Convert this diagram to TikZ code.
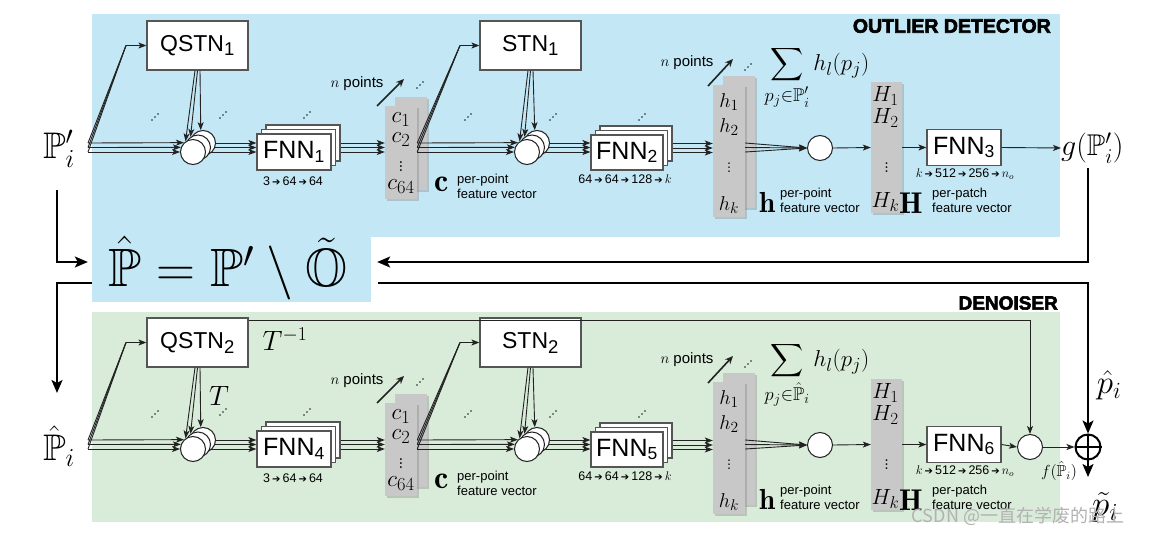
\RequirePackage{fix-cm}
\documentclass[tikz,border=0pt]{standalone}
\usepackage{amsmath,amssymb}
\usepackage{fontspec}
\setsansfont{Liberation Sans}
\newfontfamily\heavyfont{Liberation Sans}[BoldFeatures={FakeBold=3}]
\newfontfamily\arrowfont{DejaVu Sans}
\newfontfamily\cjkfont{Noto Sans CJK SC}
\usetikzlibrary{arrows.meta,shadows,calc}
\pgfdeclarelayer{back}
\pgfdeclarelayer{bg}
\pgfsetlayers{back,bg,main}
\DeclareMathSizes{23}{23}{18.5}{14}
\DeclareMathSizes{20}{20}{15.5}{11}
\DeclareMathSizes{22}{22}{17}{12}
\definecolor{bluebg}{RGB}{195,231,245}
\definecolor{greenbg}{RGB}{217,235,217}
\definecolor{boxc}{RGB}{85,85,85}
\definecolor{linec}{RGB}{34,34,34}
\definecolor{grayc}{RGB}{200,200,200}
\newcommand\fsz[2]{\fontsize{#1}{#2}\selectfont}
\newcommand\smallarr{\,{\arrowfont\fsz{10}{10}➔}\,}
\tikzset{
 conn/.style={draw=linec, line width=0.9pt, -{Stealth[length=8pt,width=6pt,inset=2pt]}},
 plain/.style={draw=linec, line width=0.9pt},
 fb/.style={draw=black, line width=2pt},
 fbarrow/.style={draw=black, line width=2pt, -{Stealth[length=13pt,width=11pt,inset=3pt]}},
 npar/.style={draw=linec, line width=1.6pt, -{Stealth[length=8pt,width=7pt]}},
 wbox/.style={draw=boxc, fill=white, line width=1.2pt, inner sep=0pt},
 netbox/.style={wbox, minimum width=101pt, minimum height=49pt, font=\sffamily\fsz{23}{23}},
 fnnbox/.style={wbox, minimum width=74pt, minimum height=36pt, font=\sffamily\fsz{25}{25}},
 gbox/.style={fill=grayc, inner sep=0pt, drop shadow={opacity=0.35, shadow xshift=1.5pt, shadow yshift=-1.5pt}},
 circ/.style={circle, draw=linec, fill=white, line width=1pt, minimum size=25pt, inner sep=0pt},
 cell/.style={font=\fsz{23}{23}, inner sep=0pt},
 hcell/.style={font=\fsz{20}{20}, inner sep=0pt},
 Hcell/.style={font=\fsz{22}{22}, inner sep=0pt},
 small/.style={font=\sffamily\fsz{12.5}{12.5}, inner sep=0pt},
 desc/.style={font=\sffamily\fsz{13}{15}, align=left, anchor=west, inner sep=0pt},
 dotc/.style={fill=linec},
}
\newcommand\diagdots[1]{\foreach \kk in {-1,0,1} {\fill[dotc] ($(#1)+(3*\kk,-3*\kk)$) circle (0.8);}}
\newcommand\pipeline[7]{%
 \node[font=\fsz{37}{37}, inner sep=0pt] (inp) at (59,149) {$#1$};
 \coordinate (s0) at (88,152);
 \coordinate (s1) at (88,147.5);
 \coordinate (s2) at (88,143);
 \coordinate (qk) at (126,45.5);
 \coordinate (sk) at (460,45.5);
 \node[netbox] (q) at (197.5,45.5) {QSTN\textsubscript{#2}};
 \node[netbox] (s) at (530.5,45.5) {STN\textsubscript{#3}};
 \node[circ] (c2) at (203,143) {};
 \node[circ] (c1) at (198,147.5) {};
 \node[circ] (c0) at (193,152) {};
 \node[circ] (d2) at (537,143) {};
 \node[circ] (d1) at (532,147.5) {};
 \node[circ] (d0) at (527,152) {};
 \node[fnnbox] (f2) at (303,143) {};
 \node[fnnbox] (f1) at (298.5,147.5) {};
 \node[fnnbox] (f0) at (294,152) {FNN\textsubscript{#4}};
 \node[fnnbox, minimum width=72pt, minimum height=35pt] (e2) at (636,143.5) {};
 \node[fnnbox, minimum width=72pt, minimum height=35pt] (e1) at (631.5,148) {};
 \node[fnnbox, minimum width=72pt, minimum height=35pt] (e0) at (627,152.5) {FNN\textsubscript{#5}};
 \node[gbox, minimum width=32pt, minimum height=93pt] (cb) at (411,143.5) {};
 \node[gbox, minimum width=32pt, minimum height=93pt] (cf) at (401,152.5) {};
 \node[cell] (cc1) at (401,120) {$c_1$};
 \node[cell] (cc2) at (401,140) {$c_2$};
 \node[cell] (cc3) at (401,164) {$\vdots$};
 \node[cell] (cc4) at (401,187) {$c_{64}$};
 \node[gbox, minimum width=32pt, minimum height=132pt] (hb) at (739,142) {};
 \node[gbox, minimum width=32pt, minimum height=132pt] (hf) at (729,151) {};
 \node[hcell] (hh1) at (729,102) {$h_1$};
 \node[hcell] (hh2) at (729,127) {$h_2$};
 \node[hcell] (hh3) at (729,165) {$\vdots$};
 \node[hcell] (hh4) at (729,205) {$h_k$};
 \node[circ] (m) at (820,148) {};
 \node[gbox, minimum width=31pt, minimum height=131pt] (H) at (886.5,147.5) {};
 \node[Hcell] (HH1) at (885.5,96) {$H_1$};
 \node[Hcell] (HH2) at (885.5,118) {$H_2$};
 \node[Hcell] (HH3) at (886.5,165) {$\vdots$};
 \node[Hcell] (HH4) at (885.5,202) {$H_k$};
 \node[fnnbox] (fl) at (964,147.5) {FNN\textsubscript{#6}};
 \begin{pgfonlayer}{bg}
 \foreach \k in {0,1,2} {
  \draw[conn] (c\k.center) -- (f0.west |- c\k.center);
  \draw[conn] (f\k.center) -- (cf.west |- f\k.center);
  \draw[conn] (d\k.center) -- (e0.west |- d\k.center);
  \draw[conn] (e\k.center) -- (hf.west |- e\k.center);
 }
 \end{pgfonlayer}
 \foreach \k in {0,1,2} {\draw[plain] (s\k) -- (qk);}
 \draw[conn] (qk) -- (q.west);
 \draw[conn] (s0) -- (c0.180);
 \draw[conn] (s1) -- (c0.159);
 \draw[conn] (s2) -- (c0.134);
 \draw[conn] ($(q.south)+(-2.5,0)$) -- (c0.125);
 \draw[conn] (q.south) -- (c1.125);
 \draw[conn] ($(q.south)+(2.5,0)$) -- (c2.100);
 \foreach \k in {0,1,2} {\draw[plain] (cf.east |- d\k.center) -- (sk);}
 \draw[conn] (sk) -- (s.west);
 \draw[conn] (cf.east |- d0.center) -- (d0.180);
 \draw[conn] (cf.east |- d1.center) -- (d0.159);
 \draw[conn] (cf.east |- d2.center) -- (d0.134);
 \draw[conn] ($(s.south)+(-2.5,0)$) -- (d0.125);
 \draw[conn] (s.south) -- (d1.125);
 \draw[conn] ($(s.south)+(2.5,0)$) -- (d2.100);
 \foreach \k in {0,1,2} {\draw[conn] (hf.east |- d\k.center) -- (m.west);}
 \draw[conn] (m.east) -- (H.west);
 \draw[conn] (H.east) -- (fl.west);
 \coordinate (dt1) at (155,117); \diagdots{dt1}
 \coordinate (dt2) at (223,115); \diagdots{dt2}
 \coordinate (dt3) at (307,115); \diagdots{dt3}
 \coordinate (dt4) at (420,85);  \diagdots{dt4}
 \coordinate (dt5) at (468,117); \diagdots{dt5}
 \coordinate (dt6) at (553,117); \diagdots{dt6}
 \coordinate (dt7) at (642,117); \diagdots{dt7}
 \coordinate (dt8) at (748,67);  \diagdots{dt8}
 \node[font=\sffamily\fsz{15}{15}, inner sep=0pt] (np1) at (357,84) {$n$ points};
 \coordinate (na0) at (377,106); \coordinate (na1) at (404,79);
 \draw[npar] (na0) -- (na1);
 \node[font=\sffamily\fsz{15}{15}, inner sep=0pt] (np2) at (687,63) {$n$ points};
 \coordinate (nb0) at (708,86); \coordinate (nb1) at (733,59);
 \draw[npar] (nb0) -- (nb1);
 \node[font=\fsz{23}{23}, inner sep=0pt] (sum) at (817,78) {$\displaystyle\sum_{#7} h_l(p_j)$};
 \node[small] (n1) at (293,181) {3\smallarr 64\smallarr 64};
 \node[small] (n2) at (625,179) {64\smallarr 64\smallarr 128\smallarr $k$};
 \node[small] (n3) at (965,174) {$k$\smallarr 512\smallarr 256\smallarr $n_o$};
 \node[anchor=west, font=\fsz{32}{32}, inner sep=0pt] (cl) at (434,184) {$\mathbf{c}$};
 \node[desc] (cd) at (457,186) {per-point\\feature vector};
 \node[anchor=west, font=\fsz{29}{29}, inner sep=0pt] (hl) at (759,202) {$\mathbf{h}$};
 \node[desc] (hd) at (780,200) {per-point\\feature vector};
 \node[anchor=west, font=\fsz{30}{30}, inner sep=0pt] (Hl) at (899,203) {$\mathbf{H}$};
 \node[desc] (Hd) at (932,200) {per-patch\\feature vector};
}
\begin{document}
\begin{tikzpicture}[x=1pt,y=-1pt]
\useasboundingbox (0,0) rectangle (1151,535);
\begin{pgfonlayer}{back}
\fill[white] (0,0) rectangle (1151,535);
\fill[bluebg] (92,14) rectangle (1060,237);
\fill[greenbg] (92,312) rectangle (1060,522);
\end{pgfonlayer}
\node[fill=bluebg, minimum width=279pt, minimum height=65pt, inner sep=0pt] (fm) at (231.5,269.5) {};
\node[font=\fsz{54}{54}, inner sep=0pt] (fmt) at (228,268) {$\hat{\mathbb P}=\mathbb P'\setminus\tilde{\mathbb O}$};
\node[anchor=east, font=\heavyfont\bfseries\fsz{19.5}{19.5}, inner sep=0pt] (od) at (1051,26) {OUTLIER DETECTOR};
\node[anchor=east, font=\heavyfont\bfseries\fsz{19}{19}, inner sep=0pt] (dn) at (1058,303) {DENOISER};
% top row
\pipeline{\mathbb P'_i}{1}{1}{1}{2}{3}{p_j\in\mathbb P'_i}
\node[anchor=west, font=\fsz{30}{30}, inner sep=0pt] (g) at (1061,148) {$g(\mathbb P'_i)$};
\draw[conn] (fl.east) -- (g.west);
% bottom row
\begin{scope}[yshift=-297pt, name prefix=b-]
\pipeline{\hat{\mathbb P}_i}{2}{2}{4}{5}{6}{p_j\in\hat{\mathbb P}_i}
\node[font=\fsz{28}{28}, inner sep=0pt] (T) at (219,99) {$T$};
\node[font=\fsz{28}{28}, inner sep=0pt] (Ti) at (285,42) {$T^{-1}$};
\node[circ] (o) at (1030,150) {};
\node[circle, draw=black, line width=2pt, fill=white, minimum size=25pt, inner sep=0pt] (plus) at (1088,150) {};
\draw[line width=2pt] (plus.north) -- (plus.south) (plus.west) -- (plus.east);
\draw[conn] (fl.east) -- (o.west);
\draw[conn] (o.east) -- (plus.west);
\draw[conn] ($(q.north east)+(0,3.5)$) -| (o.north);
\node[font=\fsz{16}{16}, inner sep=0pt] (flab) at (1059,174) {$f(\hat{\mathbb P}_i)$};
\node[font=\fsz{33}{33}, inner sep=0pt] (ph) at (1109,88) {$\hat p_i$};
\node[font=\fsz{35}{35}, inner sep=0pt] (ptl) at (1105,210) {$\tilde p_i$};
\coordinate (tip) at (1088,180);
\draw[fbarrow] (plus.south) -- (tip);
\end{scope}
% feedback lines
\coordinate (ga) at (1088,168);
\coordinate (la) at (57,190);
\coordinate (lb) at (57,393);
\draw[fbarrow] (ga) |- ($(fm.east)+(6,-7.5)$);
\draw[fbarrow] (la) |- ($(fm.west)+(-4,-7.5)$);
\draw[fbarrow] ($(fm.west)+(0,13.5)$) -| (lb);
\draw[fbarrow] ($(fm.east)+(7,13.5)$) -| (b-plus.north);
\node[font=\cjkfont\fsz{18}{18}, text=black!30, inner sep=0pt] (wm) at (1018,516) {CSDN @一直在学废的路上};
\end{tikzpicture}
\end{document}
